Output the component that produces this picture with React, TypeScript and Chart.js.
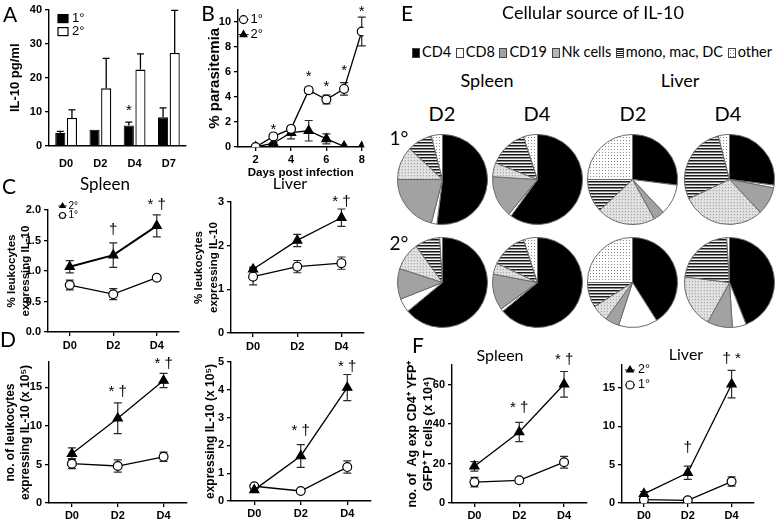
import React, { useEffect, useRef } from 'react';
import { Chart, registerables } from 'chart.js';

Chart.register(...registerables);

const FONT_AX = "'Liberation Sans', Arial, sans-serif";
const FONT_TXT = "Lato, 'Open Sans', sans-serif";

// ---------- Panel A : IL-10 pg/ml ----------
const catsA = ['D0', 'D2', 'D4', 'D7'];
const il10Prim = [3.8, 4.8, 6.0, 8.4];
const il10PrimErr = [0.5, 0, 1.0, 2.8];
const il10Sec = [8.2, 16.9, 22.4, 27.3];
const il10SecErr = [2.4, 8.8, 4.6, 12.5];
const ticksA = [0, 10, 20, 30, 40];
const marksA = [{ ds: 0, i: 2, y: 10.4, t: '*' }];

// ---------- Panel B : parasitemia ----------
const daysB = [2, 3, 4, 5, 6, 7, 8];
const parPrim = [0, 0.85, 1.45, 4.55, 3.8, 4.65, 9.25];
const parPrimErr = [0, 0.05, 0.1, 0.25, 0.35, 0.5, 1.15];
const parSec = [0, 0.3, 1.15, 1.3, 0.65, 0.05, 0];
const parSecErr = [0, 0.05, 0.5, 0.82, 0.4, 0, 0];
const ticksBx = [2, 4, 6, 8];
const ticksBy = [0, 2, 4, 6, 8, 10];
const marksB = [
  { x: 3, y: 1.4, t: '*' },
  { x: 5, y: 5.58, t: '*' },
  { x: 6, y: 4.8, t: '*' },
  { x: 7, y: 6.12, t: '*' },
  { x: 8, y: 10.78, t: '*' },
];

// ---------- Panels C, D, F ----------
const daysCat = ['D0', 'D2', 'D4'];

const pctSpleenSec = [1.07, 1.26, 1.74];
const pctSpleenSecErr = [0.1, 0.2, 0.18];
const pctSpleenPrim = [0.77, 0.62, 0.89];
const pctSpleenPrimErr = [0.08, 0.09, 0.03];
const ticksCs = [0, 0.5, 1.0, 1.5, 2.0];
const marksCs = [
  { i: 1, y: 1.67, t: '†' },
  { i: 2, y: 2.08, t: '* †' },
];

const pctLiverSec = [1.46, 2.12, 2.64];
const pctLiverSecErr = [0.05, 0.14, 0.2];
const pctLiverPrim = [1.29, 1.52, 1.6];
const pctLiverPrimErr = [0.19, 0.14, 0.14];
const ticksCl = [0, 1, 2, 3];
const marksCl = [{ i: 2, y: 3.0, t: '* †' }];

const noSpleenSec = [6.4, 11.0, 15.9];
const noSpleenSecErr = [0.75, 2.0, 0.93];
const noSpleenPrim = [5.1, 4.8, 6.0];
const noSpleenPrimErr = [0.65, 0.8, 0.6];
const ticksDs = [0, 5, 10, 15];
const marksDs = [
  { i: 1, y: 14.4, t: '* †' },
  { i: 2, y: 18.1, t: '* †' },
];

const noLiverSec = [0.4, 1.62, 4.08];
const noLiverSecErr = [0.05, 0.41, 0.47];
const noLiverPrim = [0.53, 0.36, 1.22];
const noLiverPrimErr = [0.05, 0.03, 0.22];
const ticksDl = [0, 1, 2, 3, 4, 5];
const marksDl = [
  { i: 1, y: 2.52, t: '* †' },
  { i: 2, y: 4.82, t: '* †' },
];

const agSpleenSec = [18.6, 36.0, 60.2];
const agSpleenSecErr = [2.4, 4.9, 6.5];
const agSpleenPrim = [10.6, 11.5, 20.7];
const agSpleenPrimErr = [2.4, 1.3, 3.0];
const ticksFs = [0, 20, 40, 60];
const marksFs = [
  { i: 1, y: 48.5, t: '* †' },
  { i: 2, y: 72.6, t: '* †' },
];

const agLiverSec = [1.2, 3.95, 15.5];
const agLiverSecErr = [0.3, 0.87, 1.8];
const agLiverPrim = [0.43, 0.35, 2.8];
const agLiverPrimErr = [0.2, 0.1, 0.6];
const ticksFl = [0, 5, 10, 15];
const marksFl = [
  { i: 1, y: 7.2, t: '†' },
  { i: 2, y: 18.8, t: '† *' },
];

// ---------- Panel E : cellular source ----------
const cellTypes = ['CD4', 'CD8', 'CD19', 'Nk cells', 'mono, mac, DC', 'other'];
const spleenD2Prim = [52, 2, 21, 12, 9, 4];
const spleenD4Prim = [60, 1, 15, 5, 14, 5];
const liverD2Prim = [27, 11, 4, 21, 12, 25];
const liverD4Prim = [27, 1, 10, 30, 28, 4];
const spleenD2Sec = [64, 5, 11, 10, 9, 1];
const spleenD4Sec = [64, 1, 13, 4, 13, 5];
const liverD2Sec = [41, 14, 5, 6, 9, 25];
const liverD4Sec = [44, 5, 9, 19, 22, 1];

// ---------- plugins ----------
function drawErrorBars(chart: any, opts: any) {
  const { ctx } = chart;
  const ys = chart.scales.y;
  ctx.save();
  ctx.strokeStyle = opts.color || '#000';
  ctx.lineWidth = opts.width || 1.2;
  const c = opts.cap ?? 4;
  chart.data.datasets.forEach((ds: any, di: number) => {
    if (!ds.errors) return;
    const meta = chart.getDatasetMeta(di);
    meta.data.forEach((el: any, i: number) => {
      const e = ds.errors[i];
      if (!e) return;
      const raw = ds.data[i];
      const v = typeof raw === 'number' ? raw : raw.y;
      const x = el.x;
      const top = ys.getPixelForValue(v + e);
      const bot = ds.errorUpOnly ? ys.getPixelForValue(v) : ys.getPixelForValue(v - e);
      ctx.beginPath();
      ctx.moveTo(x, top);
      ctx.lineTo(x, bot);
      ctx.moveTo(x - c, top);
      ctx.lineTo(x + c, top);
      if (!ds.errorUpOnly) {
        ctx.moveTo(x - c, bot);
        ctx.lineTo(x + c, bot);
      }
      ctx.stroke();
    });
  });
  ctx.restore();
}

const errorBars = {
  id: 'errorBars',
  beforeDatasetsDraw(chart: any, _a: any, opts: any) {
    if (opts && opts.layer === 'before') drawErrorBars(chart, opts);
  },
  afterDatasetsDraw(chart: any, _a: any, opts: any) {
    if (opts && opts.layer === 'after') drawErrorBars(chart, opts);
  },
};

const textMarks = {
  id: 'textMarks',
  afterDraw(chart: any, _a: any, opts: any) {
    const items = opts && opts.items;
    if (!items || !items.length) return;
    const { ctx } = chart;
    ctx.save();
    ctx.fillStyle = '#000';
    ctx.font = opts.font || `15px ${FONT_AX}`;
    ctx.textAlign = 'center';
    ctx.textBaseline = 'middle';
    for (let k = 0; k < items.length; k++) {
      const m = items[k];
      let x: number;
      if (m.ds !== undefined) x = chart.getDatasetMeta(m.ds).data[m.i].x;
      else if (m.x !== undefined) x = chart.scales.x.getPixelForValue(m.x);
      else x = chart.scales.x.getPixelForValue(m.i);
      const y = chart.scales.y.getPixelForValue(m.y);
      ctx.fillText(m.t, x, y);
    }
    ctx.restore();
  },
};

function drawMarker(ctx: CanvasRenderingContext2D, style: string, x: number, y: number, r: number, fill: string) {
  ctx.beginPath();
  if (style === 'triangle') {
    let rad = 0;
    for (let k = 0; k < 3; k++) {
      const px = x + Math.sin(rad) * r;
      const py = y - Math.cos(rad) * r;
      if (k === 0) ctx.moveTo(px, py);
      else ctx.lineTo(px, py);
      rad += (2 * Math.PI) / 3;
    }
    ctx.closePath();
  } else {
    ctx.arc(x, y, r, 0, Math.PI * 2);
  }
  ctx.fillStyle = fill;
  ctx.fill();
  ctx.strokeStyle = '#000';
  ctx.lineWidth = 1.1;
  ctx.stroke();
}

const insetLegend = {
  id: 'insetLegend',
  afterDraw(chart: any, _a: any, o: any) {
    if (!o || !o.order) return;
    const { ctx, chartArea } = chart;
    ctx.save();
    ctx.font = o.font;
    ctx.textBaseline = 'middle';
    ctx.textAlign = 'left';
    const order = o.order;
    for (let k = 0; k < order.length; k++) {
      const ds = chart.data.datasets[order[k]];
      const cx = chartArea.left + o.x;
      const cy = chartArea.top + o.y + k * o.gap;
      if (o.kind === 'box') {
        ctx.fillStyle = ds.backgroundColor;
        ctx.strokeStyle = '#000';
        ctx.lineWidth = 1.2;
        ctx.fillRect(cx - o.w / 2, cy - o.h / 2, o.w, o.h);
        ctx.strokeRect(cx - o.w / 2, cy - o.h / 2, o.w, o.h);
      } else {
        ctx.strokeStyle = '#000';
        ctx.lineWidth = 1;
        ctx.beginPath();
        ctx.moveTo(cx - o.line, cy);
        ctx.lineTo(cx + o.line, cy);
        ctx.stroke();
        drawMarker(ctx, ds.pointStyle, cx, cy, o.r, ds.pointBackgroundColor);
      }
      ctx.fillStyle = '#000';
      ctx.fillText(ds.label, cx + o.textGap, cy);
    }
    ctx.restore();
  },
};

Chart.register(errorBars as any, textMarks as any, insetLegend as any);

// ---------- helpers ----------
type Box = { x: number; y: number; w: number; h: number };

const tickFont = { family: FONT_AX, size: 11, weight: 'bold' as const };

function baseAxis() {
  return {
    border: { display: true, color: '#000', width: 1.4 },
    grid: { display: true, drawOnChartArea: false, drawTicks: true, tickLength: 4, color: '#000', lineWidth: 1.3, offset: false },
    ticks: { color: '#000', font: tickFont, padding: 3 },
  };
}

function fixedTicks(values: number[]) {
  return (s: any) => {
    s.ticks = values.map((v) => ({ value: v }));
  };
}

type SeriesSpec = { label: string; values: number[]; errors: number[]; marker: 'tri' | 'circ'; lineWidth?: number };

type LineOpts = {
  labels?: string[];
  xLinear?: { min: number; max: number; ticks: number[]; title: string; titleSize: number };
  series: SeriesSpec[];
  yMax: number;
  yTicks: number[];
  yFmt?: (v: number) => string;
  yW: number;
  xH: number;
  padTop: number;
  padRight: number;
  yTitle?: string | string[];
  yTitleSize: number;
  yTitleLH: number;
  yTitlePad: number;
  xLabelPad: number;
  marks: any[];
  legend?: any;
  cap: number;
};

function lineConfig(o: LineOpts): any {
  const xs = o.xLinear ? daysB : null;
  const datasets = o.series.map((s) => ({
    label: s.label,
    data: xs ? s.values.map((v, i) => ({ x: xs[i], y: v })) : s.values,
    errors: s.errors,
    borderColor: '#000',
    borderWidth: s.lineWidth ?? 1.3,
    pointStyle: s.marker === 'tri' ? 'triangle' : 'circle',
    pointRadius: s.marker === 'tri' ? 5.3 : 4.4,
    pointHoverRadius: 0,
    pointBackgroundColor: s.marker === 'tri' ? '#000' : '#fff',
    pointBorderColor: '#000',
    pointBorderWidth: 1.2,
    tension: 0,
    fill: false,
  }));
  const ax = baseAxis();
  const xScale: any = o.xLinear
    ? {
        type: 'linear',
        min: o.xLinear.min,
        max: o.xLinear.max,
        ...ax,
        ticks: { ...ax.ticks, padding: o.xLabelPad },
        afterBuildTicks: fixedTicks(o.xLinear.ticks),
        title: {
          display: true,
          text: o.xLinear.title,
          color: '#000',
          font: { family: FONT_AX, size: o.xLinear.titleSize, weight: 'bold' },
          padding: { top: 0, bottom: 0 },
        },
        afterFit: (s: any) => {
          s.height = o.xH;
        },
      }
    : {
        type: 'category',
        offset: true,
        ...ax,
        ticks: { ...ax.ticks, padding: o.xLabelPad },
        afterFit: (s: any) => {
          s.height = o.xH;
        },
      };
  return {
    type: 'line',
    data: { labels: o.labels, datasets },
    options: {
      responsive: false,
      animation: false,
      devicePixelRatio: 1,
      events: [],
      layout: { padding: { top: o.padTop, right: o.padRight, left: 0, bottom: 0 } },
      scales: {
        x: xScale,
        y: {
          type: 'linear',
          min: 0,
          max: o.yMax,
          ...ax,
          ticks: { ...ax.ticks, callback: o.yFmt ? (v: any) => o.yFmt!(Number(v)) : (v: any) => String(v) },
          afterBuildTicks: fixedTicks(o.yTicks),
          title: {
            display: !!o.yTitle,
            text: o.yTitle,
            color: '#000',
            font: { family: FONT_AX, size: o.yTitleSize, weight: 'bold', lineHeight: o.yTitleLH },
            padding: { top: o.yTitlePad, bottom: 0 },
          },
          afterFit: (s: any) => {
            s.width = o.yW;
          },
        },
      },
      plugins: {
        legend: { display: false },
        tooltip: { enabled: false },
        errorBars: { layer: 'before', cap: o.cap, width: 1.2, color: '#2a2a2a' },
        textMarks: { items: o.marks, font: `15px ${FONT_AX}` },
        insetLegend: o.legend || {},
      },
    },
  };
}

function barConfigA(): any {
  const ax = baseAxis();
  return {
    type: 'bar',
    data: {
      labels: catsA,
      datasets: [
        { label: '1°', data: il10Prim, errors: il10PrimErr, errorUpOnly: true, backgroundColor: '#000', borderColor: '#000', borderWidth: 1 },
        { label: '2°', data: il10Sec, errors: il10SecErr, errorUpOnly: true, backgroundColor: '#fff', borderColor: '#000', borderWidth: 1.3 },
      ],
    },
    options: {
      responsive: false,
      animation: false,
      devicePixelRatio: 1,
      events: [],
      layout: { padding: { top: 7, right: 6, left: 0, bottom: 0 } },
      datasets: { bar: { categoryPercentage: 0.68, barPercentage: 0.87 } },
      scales: {
        x: {
          ...ax,
          grid: { ...ax.grid, drawTicks: false },
          ticks: { ...ax.ticks, padding: 11 },
          afterFit: (s: any) => {
            s.height = 32;
          },
        },
        y: {
          min: 0,
          max: 40,
          ...ax,
          afterBuildTicks: fixedTicks(ticksA),
          title: {
            display: true,
            text: 'IL-10 pg/ml',
            color: '#000',
            font: { family: FONT_AX, size: 13, weight: 'bold' },
            padding: { top: 8, bottom: 0 },
          },
          afterFit: (s: any) => {
            s.width = 49;
          },
        },
      },
      plugins: {
        legend: { display: false },
        tooltip: { enabled: false },
        errorBars: { layer: 'after', cap: 3.5, width: 1.3, color: '#000' },
        textMarks: { items: marksA, font: `15px ${FONT_AX}` },
        insetLegend: { order: [0, 1], kind: 'box', x: 14, y: 9, gap: 13, textGap: 9, w: 10, h: 8, font: `13px ${FONT_AX}` },
      },
    },
  };
}

function ChartBox({ box, make }: { box: Box; make: () => any }) {
  const ref = useRef<HTMLCanvasElement | null>(null);
  useEffect(() => {
    const chart = new Chart(ref.current as HTMLCanvasElement, make());
    return () => chart.destroy();
  }, []);
  return (
    <div style={{ position: 'absolute', left: box.x, top: box.y, width: box.w, height: box.h }}>
      <canvas ref={ref} width={box.w} height={box.h} style={{ display: 'block', width: box.w, height: box.h }} />
    </div>
  );
}

function makePattern(w: number, h: number, draw: (g: CanvasRenderingContext2D) => void) {
  const c = document.createElement('canvas');
  c.width = w;
  c.height = h;
  const g = c.getContext('2d') as CanvasRenderingContext2D;
  draw(g);
  return g.createPattern(c, 'repeat') as CanvasPattern;
}

function cellFills() {
  return [
    '#000',
    '#fff',
    '#a2a2a2',
    makePattern(3, 3, (g) => {
      g.fillStyle = '#dcdcdc';
      g.fillRect(0, 0, 3, 3);
      g.fillStyle = '#a8a8a8';
      g.fillRect(0, 0, 1, 1);
      g.fillStyle = '#eeeeee';
      g.fillRect(1, 2, 1, 1);
    }),
    makePattern(1, 3, (g) => {
      g.fillStyle = '#f2f2f2';
      g.fillRect(0, 0, 1, 3);
      g.fillStyle = '#1a1a1a';
      g.fillRect(0, 0, 1, 1);
      g.fillStyle = '#888';
      g.fillRect(0, 1, 1, 1);
    }),
    makePattern(3, 3, (g) => {
      g.fillStyle = '#fff';
      g.fillRect(0, 0, 3, 3);
      g.fillStyle = '#8c8c8c';
      g.fillRect(1, 1, 1, 1);
    }),
  ];
}

function PieBox({ cx, cy, values }: { cx: number; cy: number; values: number[] }) {
  const ref = useRef<HTMLCanvasElement | null>(null);
  const size = 93;
  useEffect(() => {
    const chart = new Chart(ref.current as HTMLCanvasElement, {
      type: 'pie',
      data: {
        labels: cellTypes,
        datasets: [{ data: values, backgroundColor: cellFills() as any, borderColor: '#6a6a6a', borderWidth: 1 }],
      },
      options: {
        responsive: false,
        animation: false,
        devicePixelRatio: 1,
        events: [],
        layout: { padding: 1 },
        plugins: { legend: { display: false }, tooltip: { enabled: false } },
      },
    } as any);
    return () => chart.destroy();
  }, []);
  return (
    <div style={{ position: 'absolute', left: cx - size / 2, top: cy - size / 2, width: size, height: size }}>
      <canvas ref={ref} width={size} height={size} style={{ display: 'block', width: size, height: size }} />
    </div>
  );
}

function Txt({ x, y, size, children, weight }: { x: number; y: number; size: number; children: React.ReactNode; weight?: number }) {
  return (
    <div
      style={{
        position: 'absolute',
        left: x,
        top: y,
        transform: 'translate(-50%, -50%)',
        fontSize: size,
        fontFamily: FONT_TXT,
        fontWeight: weight ?? 400,
        lineHeight: 1,
        whiteSpace: 'nowrap',
        color: '#000',
      }}
    >
      {children}
    </div>
  );
}

const swatchCss: React.CSSProperties[] = [
  { background: '#000' },
  { background: '#fff' },
  { background: '#a2a2a2' },
  { background: 'radial-gradient(circle, #a0a0a0 0.6px, #dcdcdc 0.9px) 0 0 / 2px 2px' },
  { background: 'repeating-linear-gradient(180deg, #111 0px, #111 1px, #fff 1px, #fff 2px)' },
  { background: 'radial-gradient(circle, #777 0.6px, #fff 0.9px) 0 0 / 3px 3px' },
];

function CellLegend() {
  return (
    <div
      style={{
        position: 'absolute',
        left: 412,
        top: 44,
        width: 360,
        height: 17,
        display: 'flex',
        justifyContent: 'space-between',
        alignItems: 'center',
        fontFamily: FONT_TXT,
        fontSize: 14.5,
        lineHeight: 1,
        color: '#000',
        whiteSpace: 'nowrap',
      }}
    >
      {cellTypes.map((c, i) => (
        <div key={c} style={{ display: 'flex', alignItems: 'center' }}>
          <span
            style={{
              display: 'inline-block',
              width: 6,
              height: 8,
              border: '1px solid #444',
              marginRight: 2,
              ...swatchCss[i],
            }}
          />
          <span>{c}</span>
        </div>
      ))}
    </div>
  );
}

const fmt1 = (v: number) => v.toFixed(1);

export default function App() {
  return (
    <div style={{ position: 'absolute', left: 0, top: 0, width: 777, height: 522, background: '#fff', overflow: 'hidden' }}>
      <ChartBox box={{ x: 0, y: 0, w: 192, h: 178 }} make={barConfigA} />
      <ChartBox
        box={{ x: 185, y: 0, w: 185, h: 180 }}
        make={() =>
          lineConfig({
            xLinear: { min: 1, max: 8.1, ticks: ticksBx, title: 'Days post infection', titleSize: 11.5 },
            series: [
              { label: '1°', values: parPrim, errors: parPrimErr, marker: 'circ' },
              { label: '2°', values: parSec, errors: parSecErr, marker: 'tri' },
            ],
            yMax: 11,
            yTicks: ticksBy,
            yW: 53,
            xH: 33,
            padTop: 5,
            padRight: 4,
            yTitle: '% parasitemia',
            yTitleSize: 15,
            yTitleLH: 1.2,
            yTitlePad: 21,
            xLabelPad: 2,
            marks: marksB,
            cap: 4,
            legend: { order: [0, 1], x: 5.5, y: 10, gap: 15, textGap: 7, r: 4, line: 5, font: `13px ${FONT_AX}` },
          })
        }
      />
      <ChartBox
        box={{ x: 0, y: 192, w: 185, h: 158 }}
        make={() =>
          lineConfig({
            labels: daysCat,
            series: [
              { label: '2°', values: pctSpleenSec, errors: pctSpleenSecErr, marker: 'tri', lineWidth: 2 },
              { label: '1°', values: pctSpleenPrim, errors: pctSpleenPrimErr, marker: 'circ' },
            ],
            yMax: 2,
            yTicks: ticksCs,
            yFmt: fmt1,
            yW: 48,
            xH: 18,
            padTop: 18,
            padRight: 5,
            yTitle: ['% leukocytes', 'expressing IL-10'],
            yTitleSize: 11.5,
            yTitleLH: 1.25,
            yTitlePad: 4.3,
            xLabelPad: 3,
            marks: marksCs,
            cap: 4,
            legend: { order: [0, 1], x: 14.5, y: -4, gap: 9.5, textGap: 6, r: 3, line: 4, font: `10px ${FONT_AX}` },
          })
        }
      />
      <ChartBox
        box={{ x: 185, y: 192, w: 185, h: 158 }}
        make={() =>
          lineConfig({
            labels: daysCat,
            series: [
              { label: '2°', values: pctLiverSec, errors: pctLiverSecErr, marker: 'tri' },
              { label: '1°', values: pctLiverPrim, errors: pctLiverPrimErr, marker: 'circ' },
            ],
            yMax: 3,
            yTicks: ticksCl,
            yW: 46,
            xH: 17,
            padTop: 10,
            padRight: 5,
            yTitle: ['% leukocytes', 'expressing IL-10'],
            yTitleSize: 11.5,
            yTitleLH: 1.25,
            yTitlePad: 6.8,
            xLabelPad: 3,
            marks: marksCl,
            cap: 4,
          })
        }
      />
      <ChartBox
        box={{ x: 0, y: 350, w: 193, h: 172 }}
        make={() =>
          lineConfig({
            labels: daysCat,
            series: [
              { label: '2°', values: noSpleenSec, errors: noSpleenSecErr, marker: 'tri' },
              { label: '1°', values: noSpleenPrim, errors: noSpleenPrimErr, marker: 'circ' },
            ],
            yMax: 18.3,
            yTicks: ticksDs,
            yW: 49,
            xH: 19,
            padTop: 12,
            padRight: 4,
            yTitle: ['no. of leukocytes', 'expressing IL-10 (x 10⁵)'],
            yTitleSize: 12,
            yTitleLH: 1.2,
            yTitlePad: 3.8,
            xLabelPad: 2,
            marks: marksDs,
            cap: 4,
          })
        }
      />
      <ChartBox
        box={{ x: 185, y: 350, w: 192, h: 172 }}
        make={() =>
          lineConfig({
            labels: daysCat,
            series: [
              { label: '2°', values: noLiverSec, errors: noLiverSecErr, marker: 'tri' },
              { label: '1°', values: noLiverPrim, errors: noLiverPrimErr, marker: 'circ' },
            ],
            yMax: 5,
            yTicks: ticksDl,
            yW: 46,
            xH: 21,
            padTop: 12,
            padRight: 3,
            yTitle: 'expressing IL-10 (x 10⁵)',
            yTitleSize: 12,
            yTitleLH: 1.2,
            yTitlePad: 18.3,
            xLabelPad: 2,
            marks: marksDl,
            cap: 4,
          })
        }
      />
      <ChartBox
        box={{ x: 398, y: 350, w: 195, h: 172 }}
        make={() =>
          lineConfig({
            labels: daysCat,
            series: [
              { label: '2°', values: agSpleenSec, errors: agSpleenSecErr, marker: 'tri' },
              { label: '1°', values: agSpleenPrim, errors: agSpleenPrimErr, marker: 'circ' },
            ],
            yMax: 70,
            yTicks: ticksFs,
            yW: 54,
            xH: 19,
            padTop: 15,
            padRight: 2,
            yTitle: ['no. of  Ag exp CD4⁺ YFP⁺', 'GFP⁺ T cells (x 10⁴)'],
            yTitleSize: 12.5,
            yTitleLH: 1.28,
            yTitlePad: 7,
            xLabelPad: 2,
            marks: marksFs,
            cap: 4,
          })
        }
      />
      <ChartBox
        box={{ x: 595, y: 350, w: 165, h: 172 }}
        make={() =>
          lineConfig({
            labels: daysCat,
            series: [
              { label: '2°', values: agLiverSec, errors: agLiverSecErr, marker: 'tri' },
              { label: '1°', values: agLiverPrim, errors: agLiverPrimErr, marker: 'circ' },
            ],
            yMax: 18,
            yTicks: ticksFl,
            yW: 27,
            xH: 19,
            padTop: 15,
            padRight: 4,
            yTitleSize: 12,
            yTitleLH: 1.2,
            yTitlePad: 0,
            xLabelPad: 2,
            marks: marksFl,
            cap: 4,
            legend: { order: [0, 1], x: 8, y: 5, gap: 15, textGap: 8, r: 4, line: 5, font: `12.5px ${FONT_AX}` },
          })
        }
      />

      <PieBox cx={442} cy={179} values={spleenD2Prim} />
      <PieBox cx={537} cy={179} values={spleenD4Prim} />
      <PieBox cx={632} cy={179} values={liverD2Prim} />
      <PieBox cx={729} cy={179} values={liverD4Prim} />
      <PieBox cx={442} cy={282} values={spleenD2Sec} />
      <PieBox cx={537} cy={282} values={spleenD4Sec} />
      <PieBox cx={632} cy={282} values={liverD2Sec} />
      <PieBox cx={729} cy={282} values={liverD4Sec} />

      <Txt x={10} y={13} size={21}>A</Txt>
      <Txt x={208} y={12} size={21}>B</Txt>
      <Txt x={9} y={185} size={21}>C</Txt>
      <Txt x={105} y={183} size={17}>Spleen</Txt>
      <Txt x={290} y={183} size={16}>Liver</Txt>
      <Txt x={8} y={338} size={21}>D</Txt>
      <Txt x={407} y={12} size={21}>E</Txt>
      <Txt x={593} y={12} size={18}>Cellular source of IL-10</Txt>
      <CellLegend />
      <Txt x={487} y={80} size={18}>Spleen</Txt>
      <Txt x={680} y={80} size={18}>Liver</Txt>
      <Txt x={442} y={113} size={20}>D2</Txt>
      <Txt x={537} y={113} size={20}>D4</Txt>
      <Txt x={633} y={113} size={20}>D2</Txt>
      <Txt x={728} y={113} size={20}>D4</Txt>
      <Txt x={399} y={137} size={19}>1°</Txt>
      <Txt x={399} y={242} size={19}>2°</Txt>
      <Txt x={418} y={344} size={21}>F</Txt>
      <Txt x={500} y={355} size={16}>Spleen</Txt>
      <Txt x={686} y={354} size={16}>Liver</Txt>
    </div>
  );
}
